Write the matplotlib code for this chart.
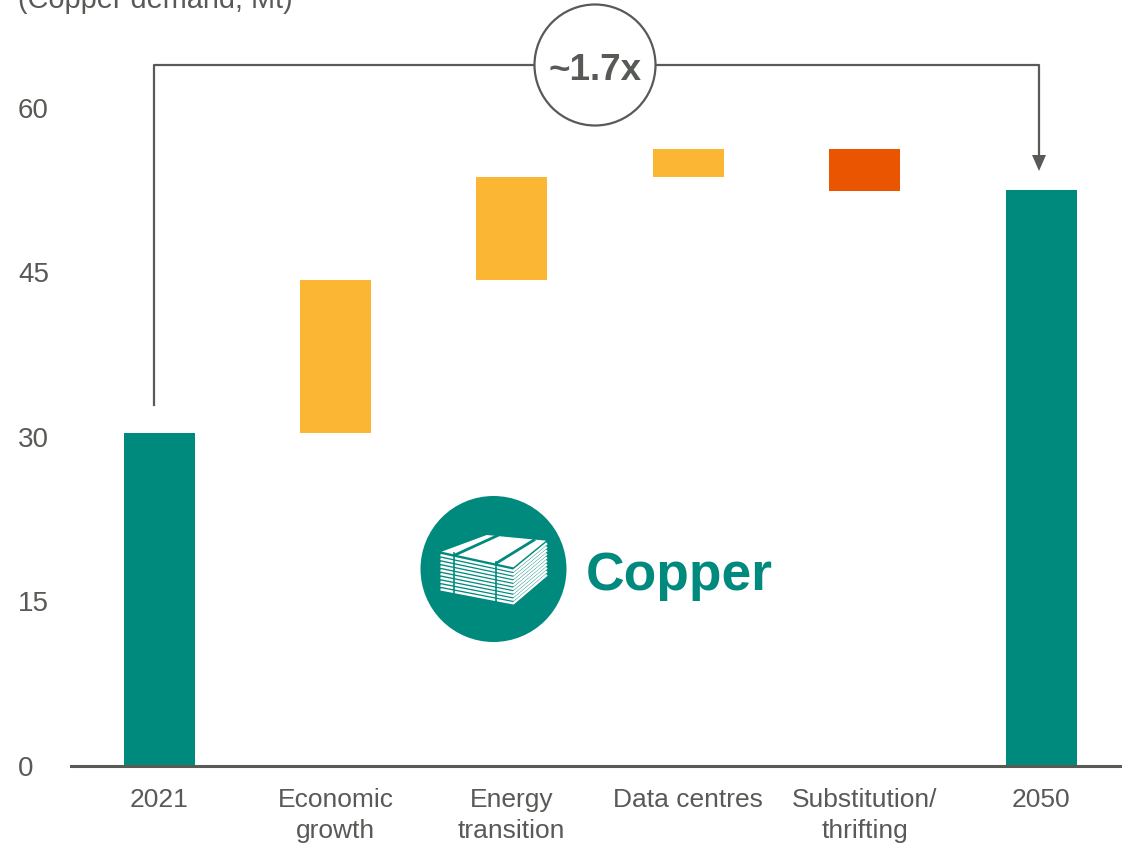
import matplotlib
matplotlib.use("Agg")
import matplotlib.pyplot as plt
from matplotlib.patches import Circle, Polygon
from matplotlib.transforms import Affine2D

W, H = 1122, 845
categories = ["2021", "Economic\ngrowth", "Energy\ntransition", "Data centres", "Substitution/\nthrifting", "2050"]
bar_bottoms = [0, 30.4, 44.3, 53.7, 52.4, 0]
bar_tops = [30.4, 44.3, 53.7, 56.2, 56.2, 52.5]
yticks = [0, 15, 30, 45, 60]
title = "(Copper demand, Mt)"
multiple = "~1.7x"
TEAL, AMBER, ORANGE, GREY = "#008A7E", "#FBB634", "#E95500", "#575A55"
colors = [TEAL, AMBER, AMBER, AMBER, ORANGE, TEAL]

plt.rcParams["font.family"] = ["Liberation Sans", "DejaVu Sans"]
fig = plt.figure(figsize=(W / 100, H / 100), dpi=100)
AX0 = 767
ax = fig.add_axes([71 / W, (H - AX0) / H, (W - 71) / W, AX0 / H])
ax.set_xlim((71 - 159) / 176.4, (W - 159) / 176.4)
ax.set_ylim(0, AX0 / 10.97)
ax.bar(range(6), [t - b for t, b in zip(bar_tops, bar_bottoms)], bottom=bar_bottoms,
       width=71 / 176.4, color=colors, linewidth=0)

for s in ("top", "right", "left"):
    ax.spines[s].set_visible(False)
ax.spines["bottom"].set_color(GREY)
ax.spines["bottom"].set_linewidth(2.2)
ax.set_xticks(range(6), categories, linespacing=1.36)
ax.set_yticks(yticks, [])
ax.tick_params(axis="both", length=0, labelsize=19, labelcolor=GREY)
ax.tick_params(axis="x", pad=15)

# pixel coordinates (origin top-left) for annotation graphics
px = Affine2D().scale(1, -1).translate(0, H)
fig.text(18, 8, title, transform=px, fontsize=20.8, color=GREY, va="baseline", ha="left")
for v in yticks:
    fig.text(18, AX0 - v * 10.97 - 1, str(v), transform=px, fontsize=20, color=GREY,
             va="center_baseline", ha="left")

# bracket and arrow
fig.add_artist(plt.Line2D([154, 154, 1039, 1039], [406, 65.5, 65.5, 158], transform=px, color=GREY, lw=1.6))
fig.add_artist(Polygon([[1032, 156], [1046, 156], [1039, 172]], transform=px, color=GREY, lw=0))
fig.add_artist(Circle((595, 66), 60.5, transform=px, facecolor="white", edgecolor=GREY, lw=1.6, zorder=3))
fig.text(595, 71, multiple, transform=px, fontsize=26.5, fontweight="bold", color=GREY,
         ha="center", va="center", zorder=4)

# copper icon
fig.add_artist(Circle((493.5, 570), 73, transform=px, facecolor=TEAL, edgecolor="none"))

def z(x, y):
    return (400 + x / 3, 480 + y / 3)

fig.add_artist(Polygon([z(125, 218), z(260, 168), z(438, 185), z(340, 265)], transform=px,
                       facecolor="white", edgecolor="none", zorder=3))
for a, b in [((165, 228), (292, 170)), ((290, 252), (402, 183))]:
    fig.add_artist(plt.Line2D(*zip(z(*a), z(*b)), transform=px, color=TEAL, lw=2.0, zorder=4))
for k in range(10):
    d = 11.4 * k + 11
    fig.add_artist(plt.Line2D(*zip(z(125, 218 + d), z(340, 265 + d * 0.95), z(438, 185 + d * 0.92)),
                              transform=px, color="white", lw=1.7, zorder=3))
for x, y0, y1 in [(162, 222, 350), (287, 250, 368)]:
    fig.add_artist(plt.Line2D(*zip(z(x, y0), z(x, y1)), transform=px, color=TEAL, lw=1.2, zorder=4))

fig.text(586, 576, "Copper", transform=px, fontsize=38.4, fontweight="bold", color=TEAL,
         ha="left", va="center")

fig.savefig("out.png", dpi=100)
